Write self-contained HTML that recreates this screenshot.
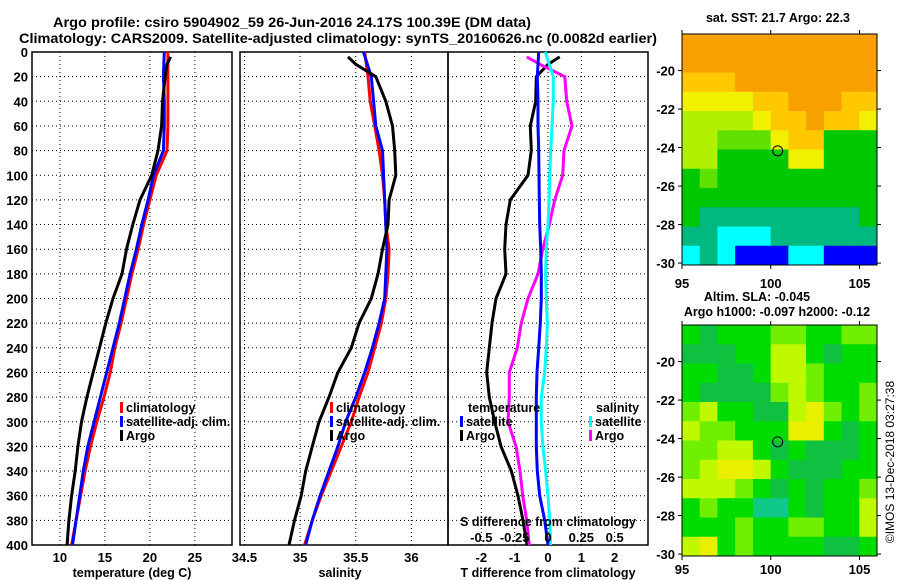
<!DOCTYPE html>
<html><head><meta charset="utf-8"><style>
body{margin:0;background:#fff}
svg{display:block;font-family:"Liberation Sans",Arial,sans-serif;font-weight:bold}
</style></head><body>
<svg id="fig" width="900" height="580" viewBox="0 0 900 580" xmlns="http://www.w3.org/2000/svg">
<text x="53" y="27" font-size="14" textLength="478" lengthAdjust="spacingAndGlyphs">Argo profile: csiro 5904902_59 26-Jun-2016 24.17S 100.39E (DM data)</text>
<text x="19" y="43" font-size="14" textLength="638" lengthAdjust="spacingAndGlyphs">Climatology: CARS2009. Satellite-adjusted climatology: synTS_20160626.nc (0.0082d earlier)</text>
<g id="g"></g>
</svg>
<script>
// ---- data ----
const depths = [0,20,40,60,80,100,120,140,160,180,200,220,240,260,280,300,320,340,360,380,400];
const argoDepths = [4,10,20,40,60,80,100,120,140,160,180,200,220,240,260,280,300,320,340,360,380,400];
const tempClim = [22.0,22.0,22.0,22.0,21.9,20.7,20.0,19.3,18.7,18.0,17.4,16.8,16.1,15.6,14.9,14.1,13.4,12.8,12.3,11.8,11.3];
const tempSat  = [21.6,21.5,21.6,21.6,21.5,20.4,19.8,19.1,18.5,17.8,17.2,16.6,15.9,15.2,14.5,13.8,13.1,12.6,12.2,11.8,11.4];
const tempArgo = [22.3,21.9,21.7,21.4,21.3,20.9,20.2,18.9,18.1,17.4,16.9,15.9,15.1,14.4,13.7,13.0,12.4,12.0,11.7,11.3,11.0,10.8];
const salClim = [35.58,35.61,35.63,35.67,35.71,35.74,35.76,35.77,35.80,35.79,35.77,35.73,35.67,35.61,35.53,35.46,35.37,35.28,35.19,35.11,35.04];
const salSat  = [35.57,35.64,35.66,35.68,35.74,35.75,35.76,35.77,35.78,35.77,35.76,35.71,35.65,35.58,35.50,35.41,35.34,35.26,35.18,35.11,35.05];
const salArgo = [35.43,35.50,35.68,35.77,35.83,35.85,35.86,35.80,35.79,35.74,35.70,35.64,35.53,35.46,35.34,35.26,35.17,35.11,35.05,35.01,34.95,34.90];
const dTSat  = [-0.28,-0.32,-0.30,-0.30,-0.28,-0.27,-0.26,-0.25,-0.22,-0.20,-0.20,-0.23,-0.28,-0.33,-0.35,-0.35,-0.35,-0.32,-0.25,-0.10,0.0];
const dSSat  = [-0.02,0.04,0.04,0.03,0.02,0.013,0.008,0.0,-0.013,-0.018,-0.013,-0.005,-0.013,-0.025,-0.05,-0.05,-0.038,-0.018,0.0,0.013,0.02];
const dTArgo = [0.35,0.0,-0.35,-0.37,-0.53,-0.5,-0.6,-1.13,-1.26,-1.3,-1.26,-1.56,-1.68,-1.76,-1.84,-1.76,-1.6,-1.41,-1.1,-0.9,-0.75,-0.63];
const dSArgo = [-0.16,-0.06,0.126,0.14,0.18,0.12,0.11,0.05,0.01,-0.04,-0.075,-0.15,-0.2,-0.23,-0.29,-0.29,-0.3,-0.24,-0.21,-0.19,-0.16,-0.14];
const depthTicks = [0,20,40,60,80,100,120,140,160,180,200,220,240,260,280,300,320,340,360,380,400];
const tempTicks = [10,15,20,25];
const salTicks = [34.5,35,35.5,36];
const dTTicks = [-2,-1,0,1,2];
const dSTicks = [-0.5,-0.25,0,0.25,0.5];
const latTicks = [-20,-22,-24,-26,-28,-30];
const lonTicks = [95,100,105];
const argoLon = 100.39, argoLat = -24.17;
const sstPalette = ['#f8a000','#ffc800','#f0f000','#b0f000','#60e000','#00c800','#00b880','#00ffff','#0000ff'];
const sstGrid = [
[0,0,0,0,0,0,0,0,0,0,0],
[0,0,0,0,0,0,0,0,0,0,0],
[1,1,1,0,0,0,0,0,0,0,0],
[2,2,2,2,1,1,0,0,0,1,1],
[3,3,3,3,2,1,1,0,1,1,2],
[3,3,4,4,4,2,1,1,5,5,5],
[3,3,5,5,5,5,2,2,5,5,5],
[5,4,5,5,5,5,5,5,5,5,5],
[5,5,5,5,5,5,5,5,5,5,5],
[5,6,6,6,6,6,6,6,6,6,5],
[6,6,7,7,7,6,6,6,6,6,6],
[7,6,7,8,8,8,7,7,8,8,8]];
const slaPalette = ['#10c040','#00dc00','#70f000','#c0f800','#e8f000','#10c888'];
const slaGrid = [
[1,0,1,1,1,2,2,1,1,2,2],
[0,0,0,1,1,3,3,1,0,1,1],
[1,1,0,0,1,3,3,2,1,1,1],
[1,0,0,0,0,2,3,2,1,1,2],
[2,3,1,1,0,0,3,4,2,1,2],
[3,2,2,1,1,1,4,4,1,0,1],
[2,2,3,3,1,0,1,0,0,0,1],
[2,3,4,4,3,1,0,0,0,1,1],
[3,3,3,2,1,0,1,0,1,1,2],
[1,2,1,1,5,5,1,0,1,1,3],
[1,1,1,2,1,1,2,2,1,1,3],
[3,4,1,2,1,1,1,1,0,0,1]];

// ---- helpers ----
const NS='http://www.w3.org/2000/svg';
const G=document.getElementById('g');
function mk(tag,attrs,parent){const e=document.createElementNS(NS,tag);for(const k in attrs)e.setAttribute(k,attrs[k]);(parent||G).appendChild(e);return e;}
function txt(x,y,s,size,anchor){const t=mk('text',{x:x,y:y,'font-size':size||12,'text-anchor':anchor||'start'});t.textContent=s;return t;}
const yD=d=>52+d*1.2325;
const TOP=52,BOT=545;
const xT=v=>32+(v-6.9)*9;
const xS=v=>240+(v-34.46)*111.3;
const xdT=v=>448+(v+3)*33.33;
const xdS=v=>xdT(v*4);

function panel(name,x0,x1,ticks,xf){
  const grp=mk('g',{});
  
  
  depthTicks.forEach(d=>{if(d>0&&d<400){const l=mk('line',{x1:x0,x2:x1,y1:yD(d),y2:yD(d),stroke:'#000','stroke-width':1,'stroke-dasharray':'1 3'},grp);
    
    }});
  ticks.forEach(v=>{const l=mk('line',{x1:xf(v),x2:xf(v),y1:TOP,y2:BOT,stroke:'#000','stroke-width':1,'stroke-dasharray':'1 3'},grp);
    
    });
  const r=mk('rect',{x:x0,y:TOP,width:x1-x0,height:BOT-TOP,fill:'none',stroke:'#000','stroke-width':1.5},grp);
  
  
  return grp;
}
function series(name,vals,ds,xf,color){
  const pts=vals.map((v,i)=>xf(v).toFixed(1)+','+yD(ds[i]).toFixed(1)).join(' ');
  const p=mk('polyline',{points:pts,fill:'none',stroke:color,'stroke-width':3,'stroke-linejoin':'miter'});
  
  
}
function tickLabels(name,ticks,xf,y,fmt){
  ticks.forEach(v=>{const t=txt(xf(v),y,fmt?fmt(v):String(v),13,'middle');
    
    });
}
function legend(name,x,y,color,label){
  const b=mk('rect',{x:x,y:y-10,width:3,height:11,fill:color});
  
  
  const t=txt(x+6,y,label,12.5);
  
  
}

// ---- panel 1: temperature ----
panel('temperature-panel',32,232,tempTicks,xT);
depthTicks.forEach(d=>{const t=txt(28,yD(d)+5,String(d),13,'end');
  
  });
series('temp-climatology-line',tempClim,depths,xT,'#ff0000');
series('temp-satellite-line',tempSat,depths,xT,'#0000ff');
series('temp-argo-line',tempArgo,argoDepths,xT,'#000000');
tickLabels('temp-tick-label',tempTicks,xT,562);
let t1=txt(132,577,'temperature (deg C)',12.5,'middle');


legend('temp-legend-climatology',120,412,'#ff0000','climatology');
legend('temp-legend-satellite',120,426,'#0000ff','satellite-adj. clim.');
legend('temp-legend-argo',120,440,'#000','Argo');

// ---- panel 2: salinity ----
panel('salinity-panel',240,448,salTicks,xS);
series('sal-climatology-line',salClim,depths,xS,'#ff0000');
series('sal-satellite-line',salSat,depths,xS,'#0000ff');
series('sal-argo-line',salArgo,argoDepths,xS,'#000000');
tickLabels('salinity-tick-label',salTicks,xS,562);
let t2=txt(340,577,'salinity',12.5,'middle');


legend('sal-legend-climatology',330,412,'#ff0000','climatology');
legend('sal-legend-satellite',330,426,'#0000ff','satellite-adj. clim.');
legend('sal-legend-argo',330,440,'#000','Argo');

// ---- panel 3: differences ----
panel('difference-panel',448,648,dTTicks,xdT);
series('dT-argo-line',dTArgo,argoDepths,xdT,'#000000');
series('dS-argo-line',dSArgo,argoDepths,xdS,'#ff00ff');
series('dS-satellite-line',dSSat,depths,xdS,'#00ffff');
series('dT-satellite-line',dTSat,depths,xdT,'#0000ff');
tickLabels('dT-tick-label',dTTicks,xdT,562);
tickLabels('dS-tick-label',dSTicks,xdS,542);
let t3=txt(548,577,'T difference from climatology',12.5,'middle');


let t4=txt(548,526,'S difference from climatology',12.5,'middle');


let t5=txt(468,412,'temperature',12.5);


let t6=txt(596,412,'salinity',12.5);


legend('diff-legend-temp-satellite',460,426,'#0000ff','satellite');
legend('diff-legend-temp-argo',460,440,'#000','Argo');
legend('diff-legend-sal-satellite',589,426,'#00ffff','satellite');
legend('diff-legend-sal-argo',589,440,'#ff00ff','Argo');

// ---- maps ----
const MX0=682,MX1=877;
const xLon=v=>MX0+(v-95)*17.75;
function map(name,top,grid,pal,labelY){
  const grp=mk('g',{});
  
  
  const yLat=v=>top+(-18.1-v)*19.25;
  const bottom=yLat(-30.1);
  grid.forEach((row,i)=>row.forEach((c,j)=>{
    const y0=yLat(-18.1-i), y1=i==grid.length-1?bottom:yLat(-19.1-i);
    const x0=MX0+j*(MX1-MX0)/11;
    const r=mk('rect',{x:x0,y:y0,width:(MX1-MX0)/11+0.5,height:y1-y0+0.5,fill:pal[c]},grp);
    
    
  }));
  const f=mk('rect',{x:MX0,y:top,width:MX1-MX0,height:bottom-top,fill:'none',stroke:'#000','stroke-width':1},grp);
  
  
  latTicks.forEach(v=>{
    mk('line',{x1:MX0-4,x2:MX0,y1:yLat(v),y2:yLat(v),stroke:'#000'},grp);
    mk('line',{x1:MX1,x2:MX1+4,y1:yLat(v),y2:yLat(v),stroke:'#000'},grp);
    const t=txt(675,yLat(v)+5,String(v),13,'end');
    
    
  });
  lonTicks.forEach(v=>{
    mk('line',{x1:xLon(v),x2:xLon(v),y1:bottom,y2:bottom+4,stroke:'#000'},grp);
    mk('line',{x1:xLon(v),x2:xLon(v),y1:top-4,y2:top,stroke:'#000'},grp);
    const t=txt(xLon(v),labelY,String(v),13,'middle');
    
    
  });
  const c=mk('circle',{cx:xLon(argoLon),cy:yLat(argoLat),r:5,fill:'none',stroke:'#000','stroke-width':1},grp);
  
  
}
map('sst-map',34,sstGrid,sstPalette,288);
map('sla-map',325,slaGrid,slaPalette,574);
let m1=txt(778,22,'sat. SST: 21.7 Argo: 22.3',12.5,'middle');


let m2=txt(757,301,'Altim. SLA: -0.045',12.5,'middle');


let m3=txt(777,316,'Argo h1000: -0.097 h2000: -0.12',12.5,'middle');


let cp=mk('text',{x:0,y:0,'font-size':12,'font-weight':'normal','text-anchor':'middle',transform:'translate(894,462) rotate(-90)'});
cp.textContent='©IMOS 13-Dec-2018 03:27:38';


</script>
</body></html>
